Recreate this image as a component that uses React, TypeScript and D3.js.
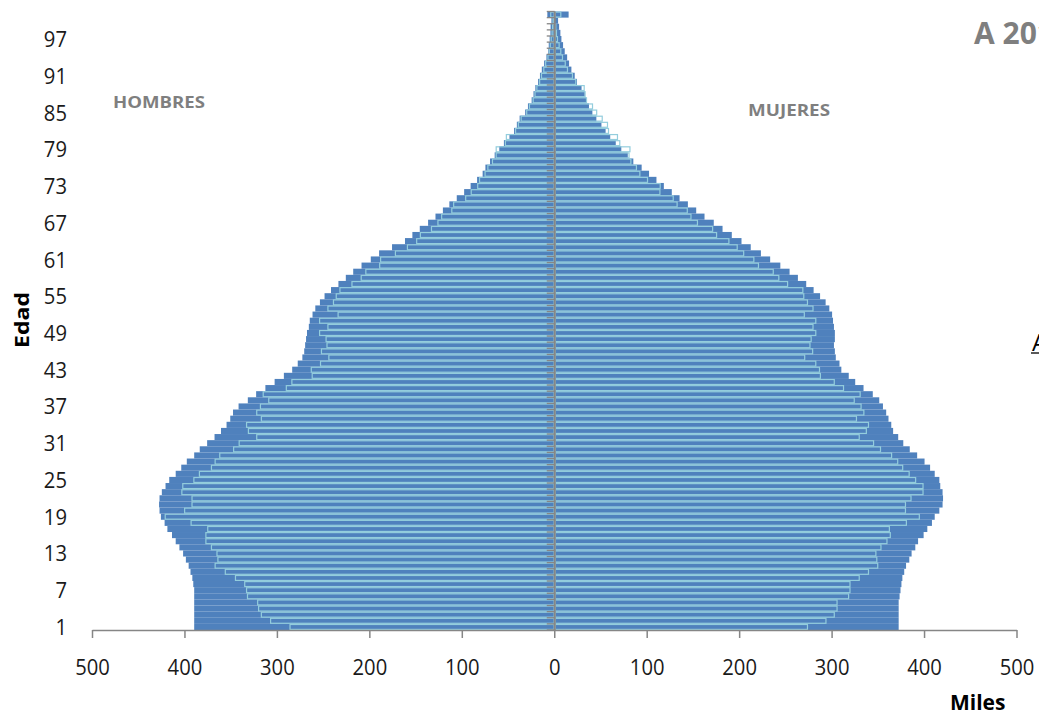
import React from "react";
import * as d3 from "d3";

const W = 1039;
const H = 717;

// categories 1..101 (edad)
const categories: string[] = d3.range(1, 102).map(String);
const yTickLabels: string[] = ["1", "7", "13", "19", "25", "31", "37", "43", "49", "55", "61", "67", "73", "79", "85", "91", "97"];
const xTickValues: number[] = [-500, -400, -300, -200, -100, 0, 100, 200, 300, 400, 500];

// Hombres, serie exterior (relleno)
const menOuter: number[] = [
  390, 390, 390, 390, 390, 390, 390, 391, 392, 394,
  396, 399, 402, 406, 410, 414, 419, 422, 426, 427.5,
  428, 427.5, 425, 421, 417, 410, 404, 398, 390, 384,
  376, 368, 361, 355, 351, 348, 342, 332, 323, 313,
  303, 293, 284, 278, 273, 271, 270, 269, 268, 266,
  265, 262, 259, 254, 249, 242, 234, 226, 218, 209,
  199, 190, 176, 162, 154, 146, 137, 129, 121, 114,
  106, 98, 91, 84, 78, 75, 70, 65, 60, 55,
  49, 44, 41, 38, 32, 29, 25, 23, 21, 18,
  16, 14, 11.5, 9, 7, 6.5, 5.5, 4.7, 4.5, 3.6,
  8,
];
// Hombres, serie interior (contorno)
const menInner: number[] = [
  287, 308, 318, 321, 322, 333, 334, 336, 346, 357,
  368, 365, 366, 372, 378, 378, 376, 394, 422, 401,
  393, 393, 404, 403, 391, 385, 372, 368, 363, 348,
  342, 323, 332, 334, 318, 323, 319, 310, 316, 291,
  285, 263, 264, 254, 245, 253, 247, 248, 255, 246,
  255, 235, 246, 240, 237, 233, 220, 210, 205, 190,
  189, 173, 160, 150, 146, 134, 127, 123, 112, 110,
  97, 91, 84, 82, 76, 73, 68, 64, 64, 54,
  53, 43, 40, 37, 31, 28, 24, 22, 20, 17,
  15, 12.5, 10.5, 8, 6.5, 5.5, 4.5, 3.5, 3, 2.5,
  5,
];
// Mujeres, serie exterior (relleno)
const womenOuter: number[] = [
  372, 372, 372, 372, 372, 373, 374, 375, 376, 378,
  380, 383.5, 386, 390, 393, 399, 403, 408, 411, 416,
  419.5, 420, 419.5, 417, 416, 411, 406, 400, 392, 384,
  377, 371.5, 366, 364, 361, 358.5, 355, 351, 344, 334,
  325, 318, 310, 308, 304, 303, 302, 303, 303, 302,
  301, 300, 297, 293, 287, 280, 272, 263, 254, 244,
  233, 223, 212, 202, 191.5, 181.5, 172, 162, 153, 144,
  135, 126.6, 118, 110, 102, 94, 85, 79, 72, 66,
  60, 55, 50.5, 45, 40.7, 37, 34, 32.5, 29, 24,
  21.6, 18, 15.5, 13.4, 10.8, 9, 7.2, 6.1, 4.7, 3.6,
  15,
];
// Mujeres, serie interior (contorno)
const womenInner: number[] = [
  274, 294, 303, 306, 306, 318.5, 320, 320, 330, 340,
  350, 349, 348, 353.5, 360, 363.6, 362.6, 381, 395, 380,
  380, 386, 399, 399, 391, 384, 377, 371.6, 365, 353,
  345.5, 330, 337.7, 340, 327, 335, 332, 324.6, 331, 313,
  303, 288, 287, 283, 271, 279.6, 276.7, 278, 283, 280,
  283, 270.6, 280, 274, 270, 269, 252.5, 243, 237, 221,
  216, 205, 198, 189, 175.7, 171.4, 155, 148, 144, 133,
  128.8, 114.4, 114.7, 101, 92.7, 89, 83, 81, 82, 71,
  68.5, 58.8, 57.7, 52, 46, 41.5, 35, 33.5, 32.5, 23.4,
  19.8, 14.4, 12, 9, 7.2, 5.4, 3.6, 2.5, 1.8, 1.1,
  7.2,
];

const DARK = "#4F81BD";
const LIGHT = "#93CDDD";
const AXIS = "#868686";
const FONT = "'Open Sans', 'Noto Sans', sans-serif";

export default function App() {
  const x = d3.scaleLinear().domain([-500, 500]).range([92.5, 1017]);
  const y = d3.scaleBand<string>().domain(categories).range([630, 11.5]).padding(0);
  const bw = y.bandwidth();
  const x0 = x(0);
  const sw = 1.2;
  const h = sw / 2;

  const darkBars: React.ReactNode[] = [];
  const lightBars: React.ReactNode[] = [];
  categories.forEach((c, i) => {
    const yy = y(c)!;
    const lm = x(-menOuter[i]);
    darkBars.push(<rect key={"dm" + c} x={lm} y={yy} width={x0 - lm} height={bw} fill={DARK} />);
    const rw = x(womenOuter[i]);
    darkBars.push(<rect key={"dw" + c} x={x0} y={yy} width={rw - x0} height={bw} fill={DARK} />);
    const li = x(-menInner[i]);
    lightBars.push(
      <rect key={"lm" + c} x={li + h} y={yy + h} width={Math.max(0, x0 - li - sw)} height={bw - sw}
        fill="none" stroke={LIGHT} strokeWidth={sw} />
    );
    const ri = x(womenInner[i]);
    lightBars.push(
      <rect key={"lw" + c} x={x0 + h} y={yy + h} width={Math.max(0, ri - x0 - sw)} height={bw - sw}
        fill="none" stroke={LIGHT} strokeWidth={sw} />
    );
  });

  const boundaries = d3.range(0, categories.length + 1).map((k) => 630 - k * bw);

  return (
    <svg width={W} height={H} style={{ position: "absolute", left: 0, top: 0, background: "#fff" }}
      fontFamily={FONT}>
      <rect x={0} y={0} width={W} height={H} fill="#fff" />
      <g>{darkBars}</g>
      <g>{lightBars}</g>
      {/* category axis at 0 */}
      <g stroke={AXIS}>
        <line x1={x0} x2={x0} y1={11.5} y2={630} strokeWidth={2} />
        {boundaries.map((b, k) => (
          <line key={"ct" + k} x1={x0 - 8} x2={x0} y1={b} y2={b} strokeWidth={1.3} />
        ))}
      </g>
      {/* value axis */}
      <g stroke={AXIS}>
        <line x1={x(-500)} x2={x(500)} y1={630.5} y2={630.5} strokeWidth={1.5} />
        {xTickValues.map((v) => (
          <line key={"xt" + v} x1={x(v)} x2={x(v)} y1={630} y2={638} strokeWidth={1.5} />
        ))}
      </g>
      {xTickValues.map((v) => (
        <text key={"xl" + v} transform={`translate(${x(v)},675) scale(0.92,1)`} textAnchor="middle"
          fontSize={22} fill="#1a1a1a">{String(Math.abs(v))}</text>
      ))}
      {yTickLabels.map((t) => (
        <text key={"yl" + t} transform={`translate(67,${y(t)! + bw / 2 + 8}) scale(0.92,1)`} textAnchor="end"
          fontSize={22} fill="#1a1a1a">{t}</text>
      ))}
      <text transform={`translate(29,320) rotate(-90)`} textAnchor="middle" fontSize={19} fontWeight="bold"
        fill="#000" textLength={56} lengthAdjust="spacingAndGlyphs">Edad</text>
      <text x={950} y={710} fontSize={21} fontWeight="bold" fill="#000">Miles</text>
      <text x={113} y={108} fontSize={16} fontWeight="bold" fill="#7F7F7F" textLength={92}
        lengthAdjust="spacingAndGlyphs">HOMBRES</text>
      <text x={748} y={116} fontSize={16} fontWeight="bold" fill="#7F7F7F" textLength={82}
        lengthAdjust="spacingAndGlyphs">MUJERES</text>
      <text x={974} y={44} fontSize={30} fontWeight="bold" fill="#7F7F7F">A 2019</text>
      <text x={1032} y={351} fontSize={24} fill="#000">A</text>
      <line x1={1031} x2={1039} y1={353} y2={353} stroke="#000" strokeWidth={1.3} />
    </svg>
  );
}
